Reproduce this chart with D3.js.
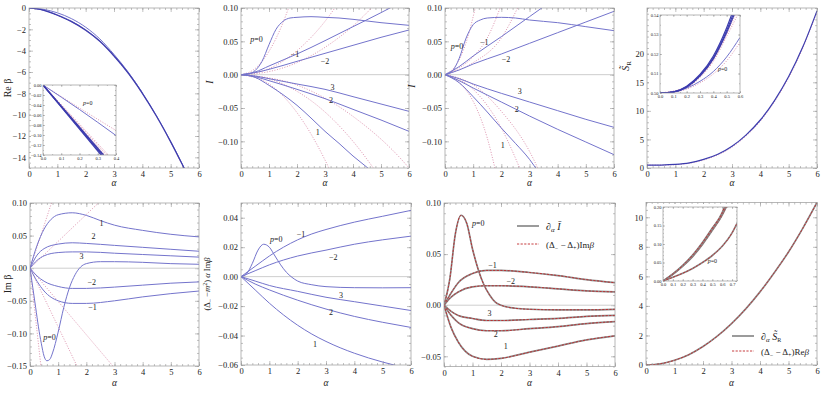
<!DOCTYPE html>
<html><head><meta charset="utf-8">
<script src="https://cdn.jsdelivr.net/npm/d3@7"></script>
<style>
body{margin:0;background:#fff}
svg{display:block;font-family:"Liberation Serif","Times New Roman","DejaVu Serif",serif}
svg text{font-family:"Liberation Serif","Times New Roman","DejaVu Serif",serif !important;fill:#222}
</style></head>
<body><svg id="c" width="830" height="393"></svg>
<script>
// ---------------- DATA ----------------
const alphaTicks = [0,1,2,3,4,5,6];
// Panel 1: Re beta
const reMain = [[0,0],[0.5,-0.2],[1,-0.68],[1.5,-1.28],[2,-2.08],[2.5,-3.12],[3,-4.5],[3.5,-6.1],[4,-8.0],[4.5,-10.15],[5,-12.55],[5.5,-15.15],[5.7,-16.2]];
const reMain2 = [[0,0],[0.5,-0.19],[1,-0.64],[1.5,-1.24],[2,-2.04],[2.5,-3.08],[3,-4.45],[3.5,-6.05],[4,-7.95],[4.5,-10.1],[5,-12.5],[5.5,-15.1],[5.7,-16.2]];
const reP0 = [[0,0],[0.5,-0.12],[1,-0.45],[1.5,-1.0],[2,-1.8],[2.5,-2.9],[3,-4.35],[3.5,-6.0],[4,-7.93]];
const reDot = [[0,0],[0.5,-0.21],[1,-0.7],[1.5,-1.3],[2,-2.1],[2.5,-3.15],[3,-4.53],[3.5,-6.13],[4,-8.03],[4.5,-10.18],[5,-12.58],[5.5,-15.2],[5.7,-16.2]];
const reYTicks = [0,-2,-4,-6,-8,-10,-12,-14];
// inset of panel 1
const in1Solid = [[[0,0],[0.318,-0.14]],[[0,0],[0.325,-0.14]],[[0,0],[0.332,-0.14]]];
const in1Dot = [[[0,0],[0.338,-0.14]],[[0,0],[0.348,-0.14]],[[0,0],[0.358,-0.14]]];
const in1P0 = [[0,0],[0.2,-0.049],[0.4,-0.101]];
const in1P0Dot = [[0,0],[0.2,-0.046],[0.4,-0.091]];
const in1YTicks = [0,-0.02,-0.04,-0.06,-0.08,-0.10,-0.12,-0.14];
const in1XTicks = [0,0.1,0.2,0.3,0.4];

// Panel 2: I
const I2 = {
  p0:[[0,0],[0.25,0.001],[0.5,0.006],[0.75,0.02],[1,0.045],[1.25,0.068],[1.5,0.08],[1.75,0.085],[2,0.086],[2.5,0.087],[3,0.086],[3.5,0.085],[4,0.083],[5,0.078],[6,0.074]],
  m1:[[0,0],[0.5,0.004],[1,0.013],[1.5,0.022],[2,0.031],[3,0.051],[4,0.072],[5,0.093],[5.5,0.104]],
  m2:[[0,0],[0.5,0.003],[1,0.008],[2,0.02],[3,0.032],[4,0.044],[5,0.056],[6,0.067]],
  p3:[[0,0],[0.5,-0.002],[1,-0.006],[2,-0.014],[3,-0.022],[4,-0.033],[5,-0.044],[6,-0.055]],
  p2:[[0,0],[0.5,-0.003],[1,-0.009],[2,-0.022],[3,-0.036],[4,-0.052],[5,-0.068],[6,-0.085]],
  p1:[[0,0],[0.5,-0.004],[1,-0.016],[1.5,-0.03],[2,-0.046],[2.5,-0.065],[3,-0.085],[3.5,-0.103],[4,-0.122],[4.5,-0.139],[4.8,-0.15]]
};
const I2dots = [
  [[0,0],[0.5,0.009],[1,0.035],[1.5,0.078],[1.75,0.106]],
  [[0,0],[1,0.009],[2,0.036],[3,0.08],[3.5,0.109]],
  [[0,0],[1,0.0046],[2,0.018],[3,0.041],[4,0.073],[4.8,0.106]],
  [[0,0],[1,-0.014],[2,-0.057],[3,-0.128],[3.25,-0.15]],
  [[0,0],[1,-0.0063],[2,-0.025],[3,-0.056],[4,-0.1],[4.9,-0.15]],
  [[0,0],[2,-0.0156],[4,-0.0626],[6,-0.14],[6.1,-0.145]]
];
const Iticks = [0.10,0.05,0,-0.05,-0.10];
const I2labels = [[0.55,0.052,"p=0"],[1.93,0.029,"−1"],[3.0,0.019,"−2"],[3.27,-0.021,"3"],[3.21,-0.040,"2"],[2.74,-0.088,"1"]];

// Panel 3: I
const I3 = {
  p0:[[0,0],[0.25,0.005],[0.5,0.024],[0.75,0.055],[1,0.075],[1.25,0.082],[1.5,0.085],[2,0.086],[2.5,0.085],[3,0.082],[4,0.078],[5,0.072],[6,0.066]],
  m1:[[0,0],[0.5,0.012],[1,0.028],[2,0.057],[3,0.087],[3.5,0.102]],
  m2:[[0,0],[0.5,0.007],[1,0.016],[2,0.031],[3,0.047],[4,0.063],[5,0.079],[6,0.095]],
  p3:[[0,0],[0.5,-0.006],[1,-0.014],[2,-0.028],[3,-0.041],[4,-0.054],[5,-0.067],[6,-0.079]],
  p2:[[0,0],[0.5,-0.009],[1,-0.02],[2,-0.041],[3,-0.062],[4,-0.082],[5,-0.101],[6,-0.12]],
  p1:[[0,0],[0.5,-0.012],[1,-0.033],[1.5,-0.056],[2,-0.08],[2.5,-0.103],[3,-0.127],[3.3,-0.145]]
};
const I3dots = [
  [[0,0],[0.5,0.022],[0.8,0.055],[1.1,0.105]],
  [[0,0],[0.5,0.01],[1,0.027],[1.5,0.055],[2,0.105]],
  [[0,0],[1,0.018],[2,0.055],[2.6,0.102]],
  [[0,0],[0.5,-0.012],[1,-0.04],[1.5,-0.095],[1.8,-0.145]],
  [[0,0],[1,-0.022],[2,-0.08],[2.7,-0.145]],
  [[0,0],[1,-0.015],[2,-0.055],[3,-0.115],[3.35,-0.145]]
];
const I3labels = [[0.43,0.042,"p=0"],[1.39,0.047,"−1"],[2.17,0.022,"−2"],[2.65,-0.027,"3"],[2.55,-0.054,"2"],[2.05,-0.108,"1"]];

// Panel 4: S_R
const sMain = [[0,0.5],[0.5,0.52],[1,0.62],[1.5,0.9],[2,1.5],[2.5,2.4],[3,3.8],[3.5,5.8],[4,8.4],[4.5,11.8],[5,16.0],[5.5,21.2],[6,27.5]];
const sDot = [[0,0.5],[0.5,0.51],[1,0.58],[1.5,0.84],[2,1.4],[2.5,2.28],[3,3.65],[3.5,5.62],[4,8.2],[4.5,11.6],[5,15.8],[5.5,21.0],[6,27.3]];
const sYTicks = [0,5,10,15,20];
const in4Solid = [
  [[0,0.5],[0.1,0.5006],[0.2,0.5035],[0.3,0.5095],[0.4,0.519],[0.5,0.5335],[0.55,0.5425]],
  [[0,0.5],[0.1,0.5005],[0.2,0.5032],[0.3,0.509],[0.4,0.518],[0.5,0.532],[0.56,0.5425]],
  [[0,0.5],[0.1,0.5005],[0.2,0.5030],[0.3,0.5087],[0.4,0.5175],[0.5,0.531],[0.57,0.5425]]
];
const in4Dot = [
  [[0,0.5],[0.2,0.503],[0.3,0.5083],[0.4,0.517],[0.5,0.5302],[0.58,0.5425]],
  [[0,0.5],[0.2,0.5028],[0.3,0.508],[0.4,0.5162],[0.5,0.529],[0.6,0.5425]]
];
const in4P0 = [[0,0.5],[0.1,0.5005],[0.2,0.5025],[0.3,0.506],[0.4,0.511],[0.5,0.5185],[0.6,0.5285]];
const in4P0Dot = [[0,0.5],[0.1,0.5004],[0.2,0.502],[0.3,0.5052],[0.4,0.5098],[0.5,0.5165],[0.6,0.526]];
const in4YTicks = [0.50,0.51,0.52,0.53,0.54];
const in4XTicks = [0,0.1,0.2,0.3,0.4,0.5,0.6];

// Panel 5: Im beta
const Im = {
  p1:[[0,0],[0.25,0.035],[0.5,0.06],[0.75,0.075],[1,0.082],[1.5,0.085],[2,0.081],[2.5,0.073],[3,0.066],[4,0.058],[5,0.052],[6,0.048]],
  p2:[[0,0],[0.25,0.02],[0.5,0.03],[1,0.037],[1.5,0.039],[2,0.038],[3,0.035],[4,0.032],[5,0.029],[6,0.026]],
  p3:[[0,0],[0.25,0.012],[0.5,0.019],[1,0.024],[1.5,0.025],[2,0.025],[3,0.023],[4,0.021],[5,0.019],[6,0.017]],
  p0:[[0,0],[0.1,-0.03],[0.2,-0.06],[0.3,-0.09],[0.4,-0.115],[0.5,-0.135],[0.6,-0.142],[0.7,-0.14],[0.8,-0.13],[1.0,-0.098],[1.2,-0.06],[1.4,-0.03],[1.6,-0.01],[1.8,0.002],[2.0,0.007],[2.5,0.01],[3,0.01],[4,0.009],[5,0.007],[6,0.006]],
  m2:[[0,0],[0.25,-0.012],[0.5,-0.02],[1,-0.028],[1.5,-0.031],[2,-0.031],[3,-0.029],[4,-0.026],[5,-0.023],[6,-0.021]],
  m1:[[0,0],[0.25,-0.02],[0.5,-0.035],[1,-0.05],[1.5,-0.054],[2,-0.054],[3,-0.05],[4,-0.044],[5,-0.039],[6,-0.035]]
};
const ImDots = [[[0,0],[0.8,0.105]],[[0,0],[2.5,0.103]],[[0,0],[0.4,-0.155]],[[0,0],[1.7,-0.153]],[[0,0],[3.0,-0.153]]];
const ImTicks = [0.10,0.05,0,-0.05,-0.10,-0.15];
const ImLabels = [[2.54,0.067,"1"],[2.25,0.047,"2"],[1.83,0.017,"3"],[2.19,-0.023,"−2"],[2.22,-0.061,"−1"],[0.69,-0.107,"p=0"]];

// Panel 6: (Δ−m²) α Im β
const D = {
  p0:[[0,0],[0.2,0.002],[0.4,0.009],[0.6,0.018],[0.8,0.022],[1.0,0.02],[1.2,0.014],[1.4,0.008],[1.6,0.003],[1.8,-0.0005],[2,-0.003],[2.5,-0.0055],[3,-0.0068],[4,-0.0075],[5,-0.0076],[6,-0.0075]],
  m1:[[0,0],[0.5,0.007],[1,0.014],[1.5,0.02],[2,0.025],[2.5,0.029],[3,0.032],[4,0.037],[5,0.041],[6,0.045]],
  m2:[[0,0],[0.5,0.004],[1,0.008],[2,0.014],[3,0.018],[4,0.022],[5,0.025],[6,0.0275]],
  p3:[[0,0],[0.5,-0.003],[1,-0.006],[2,-0.01],[3,-0.014],[4,-0.017],[5,-0.02],[6,-0.023]],
  p2:[[0,0],[0.5,-0.005],[1,-0.009],[2,-0.016],[3,-0.022],[4,-0.027],[5,-0.031],[6,-0.0345]],
  p1:[[0,0],[0.5,-0.009],[1,-0.018],[1.5,-0.026],[2,-0.033],[2.5,-0.039],[3,-0.044],[4,-0.052],[5,-0.058],[5.6,-0.061]]
};
const DTicks = [0.04,0.02,0,-0.02,-0.04,-0.06];
const DLabels = [[1.24,0.025,"p=0"],[2.12,0.028,"−1"],[3.26,0.0125,"−2"],[3.53,-0.013,"3"],[3.18,-0.025,"2"],[2.61,-0.0466,"1"]];

// Panel 7: ∂α I
const dI = {
  p0:[[0,0],[0.2,0.025],[0.4,0.07],[0.6,0.088],[0.8,0.08],[1.0,0.055],[1.2,0.035],[1.4,0.02],[1.6,0.01],[1.8,0.003],[2,0.0],[2.5,-0.003],[3,-0.004],[4,-0.0045],[5,-0.0045],[6,-0.004]],
  m1:[[0,0],[0.25,0.012],[0.5,0.022],[1,0.031],[1.5,0.034],[2,0.034],[3,0.032],[4,0.029],[5,0.025],[6,0.022]],
  m2:[[0,0],[0.25,0.008],[0.5,0.013],[1,0.018],[1.5,0.019],[2,0.019],[3,0.018],[4,0.016],[5,0.014],[6,0.013]],
  p3:[[0,0],[0.25,-0.006],[0.5,-0.01],[1,-0.013],[1.5,-0.015],[2,-0.015],[3,-0.014],[4,-0.013],[5,-0.011],[6,-0.01]],
  p2:[[0,0],[0.25,-0.01],[0.5,-0.017],[1,-0.023],[1.5,-0.025],[2,-0.025],[3,-0.023],[4,-0.021],[5,-0.018],[6,-0.016]],
  p1:[[0,0],[0.25,-0.022],[0.5,-0.036],[1,-0.05],[1.5,-0.053],[2,-0.052],[3,-0.046],[4,-0.04],[5,-0.034],[6,-0.03]]
};
const dITicks = [0.10,0.05,0,-0.05];
const dILabels = [[1.2,0.0796,"p=0"],[1.7,0.0378,"−1"],[2.34,0.0227,"−2"],[1.6,-0.0092,"3"],[1.82,-0.029,"2"],[2.17,-0.0414,"1"]];

// Panel 8: ∂α S_R
const dS = [[0,0],[0.5,0.08],[1,0.32],[1.5,0.7],[2,1.25],[2.5,1.95],[3,2.8],[3.5,3.8],[4,4.95],[4.5,6.25],[5,7.65],[5.5,9.25],[6,11]];
const dSTicks = [0,2,4,6,8,10];
const in8Bundle = [
  [[0,0],[0.1,0.018],[0.2,0.04],[0.3,0.066],[0.4,0.099],[0.5,0.137],[0.6,0.178],[0.65,0.205]],
  [[0,0],[0.1,0.0185],[0.2,0.041],[0.3,0.068],[0.4,0.101],[0.5,0.14],[0.6,0.181],[0.64,0.205]],
  [[0,0],[0.1,0.019],[0.2,0.042],[0.3,0.07],[0.4,0.104],[0.5,0.143],[0.6,0.185],[0.63,0.205]]
];
const in8P0 = [[0,0],[0.1,0.01],[0.2,0.021],[0.3,0.034],[0.4,0.05],[0.5,0.069],[0.6,0.094],[0.7,0.13],[0.75,0.156]];
const in8YTicks = [0,0.05,0.10,0.15,0.20];
const in8XTicks = [0,0.1,0.2,0.3,0.4,0.5,0.6,0.7];

// ---------------- DRAWING ----------------
const FONT = '"Liberation Serif","Times New Roman","DejaVu Serif",serif';
const svg = d3.select('#c');
let cid = 0;
const BLUE = '#7474cc', DBLUE = '#3c3cae', PINK = '#d4789a', GRAY = '#8a8a8a', RED = '#c0282a';

function styl(p, s){
  if(s==='b') p.attr('stroke',BLUE).attr('stroke-width',1);
  else if(s==='bd') p.attr('stroke',DBLUE).attr('stroke-width',1.2);
  else if(s==='r') p.attr('stroke',PINK).attr('stroke-width',0.8).attr('stroke-dasharray','1,1.6');
  else if(s==='g') p.attr('stroke',GRAY).attr('stroke-width',1.7);
  else if(s==='rd') p.attr('stroke',RED).attr('stroke-width',0.9).attr('stroke-dasharray','2.2,1.4');
  p.attr('fill','none');
}

function minorVals(dom, step){
  const lo = Math.min(dom[0],dom[1]), hi = Math.max(dom[0],dom[1]);
  const out=[]; const n0=Math.ceil(lo/step-1e-9), n1=Math.floor(hi/step+1e-9);
  for(let i=n0;i<=n1;i++) out.push(+(i*step).toFixed(6));
  return out;
}

function txt(sel){ return sel.style('font-family',FONT); }

function panel(o){
  const x = d3.scaleLinear().domain(o.xd).range([o.l,o.r]);
  const y = d3.scaleLinear().domain(o.yd).range([o.b,o.t]);
  const g = svg.append('g').attr('font-family',FONT);
  const id = 'clip'+(cid++);
  svg.append('clipPath').attr('id',id).append('rect')
    .attr('x',o.l).attr('y',o.t).attr('width',o.r-o.l).attr('height',o.b-o.t);
  if(o.bg) g.append('rect').attr('x',o.bg[0]).attr('y',o.bg[1]).attr('width',o.bg[2]).attr('height',o.bg[3]).attr('fill','#fff');
  const fs = o.fs||8.5, tl = o.tl||4, ml = o.ml||2;
  const fmtX = o.xf||(d=>d3.format('d')(d));
  const fmtY = o.yf||(d=>d3.format('d')(d));
  const mk = (axis, tr, vals, sz) => {
    const a = g.append('g').attr('transform',tr).call(axis.tickValues(vals).tickSize(-sz).tickFormat(''));
    a.select('.domain').remove(); a.selectAll('line').attr('stroke','#999').attr('stroke-width',0.6);
    a.selectAll('text').remove();
  };
  const xm = minorVals(o.xd,o.xms), ym = minorVals(o.yd,o.yms);
  mk(d3.axisBottom(x),`translate(0,${o.b})`,xm,ml);
  mk(d3.axisTop(x),`translate(0,${o.t})`,xm,ml);
  mk(d3.axisLeft(y),`translate(${o.l},0)`,ym,ml);
  mk(d3.axisRight(y),`translate(${o.r},0)`,ym,ml);
  mk(d3.axisTop(x),`translate(0,${o.t})`,o.xt,tl);
  mk(d3.axisRight(y),`translate(${o.r},0)`,o.yt,tl);
  const bx = g.append('g').attr('transform',`translate(0,${o.b})`)
    .call(d3.axisBottom(x).tickValues(o.xt).tickSize(-tl).tickPadding(o.xpad||3).tickFormat(fmtX));
  const ly = g.append('g').attr('transform',`translate(${o.l},0)`)
    .call(d3.axisLeft(y).tickValues(o.yt).tickSize(-tl).tickPadding(o.ypad||3).tickFormat(fmtY));
  [bx,ly].forEach(a=>{a.select('.domain').remove(); a.attr('font-family',FONT);
    a.selectAll('line').attr('stroke','#999').attr('stroke-width',0.6);
    txt(a.selectAll('text')).attr('font-size',fs).attr('fill','#222');});
  if(o.zero){
    g.append('line').attr('x1',o.l).attr('x2',o.r).attr('y1',y(0)).attr('y2',y(0))
     .attr('stroke','#c8c8c8').attr('stroke-width',0.9);
  }
  const line = d3.line().x(d=>x(d[0])).y(d=>y(d[1])).curve(d3.curveMonotoneX);
  const sg = g.append('g').attr('clip-path',`url(#${id})`);
  (o.series||[]).forEach(s=>{ styl(sg.append('path').attr('d',line(s.d)), s.s); });
  g.append('rect').attr('x',o.l).attr('y',o.t).attr('width',o.r-o.l).attr('height',o.b-o.t)
    .attr('fill','none').attr('stroke','#999').attr('stroke-width',0.7);
  (o.labels||[]).forEach(L=>{
    const t = txt(g.append('text')).attr('x',x(L[0])).attr('y',y(L[1])).attr('font-size',o.lfs||8)
      .attr('text-anchor','middle').attr('dominant-baseline','middle');
    if(L[2]==='p=0'){ t.append('tspan').attr('font-style','italic').text('p'); t.append('tspan').text('=0'); }
    else t.text(L[2]);
  });
  if(o.xlabel){
    txt(g.append('text')).attr('x',(o.l+o.r)/2).attr('y',o.xly).attr('text-anchor','middle')
      .attr('font-size',9.5).attr('font-style','italic').text('α');
  }
  return {x,y,g};
}

const sixSeries = (obj, st) => ['p0','m1','m2','p3','p2','p1'].map(k=>({d:obj[k],s:st}));
const f2 = d=> d3.format('.2f')(d);

// Panel 1
const P1 = panel({l:29,r:199,t:8,b:168,xd:[0,6],yd:[-15,0],xt:alphaTicks,yt:reYTicks,xms:0.2,yms:0.5,
  series:[{d:reDot,s:'r'},{d:reP0,s:'b'},{d:reMain2,s:'b'},{d:reMain,s:'bd'}],xlabel:true,xly:186});
txt(P1.g.append('text')).attr('transform','translate(11,88) rotate(-90)').attr('text-anchor','middle')
  .attr('font-size',10).text('Re β');
// Inset 1
panel({l:43,r:116,t:85,b:155,xd:[0,0.4],yd:[-0.14,0],xt:in1XTicks,yt:in1YTicks,xms:0.05,yms:0.01,fs:4.5,tl:2,ml:1,
  bg:[31,82,89,80],
  xf:d=>d3.format('.1f')(d), yf:f2, xpad:1.5, ypad:1.5,
  series:[...in1Dot.map(d=>({d,s:'r'})),{d:in1P0Dot,s:'r'},{d:in1P0,s:'b'},...in1Solid.map(d=>({d,s:'bd'}))],
  labels:[[0.245,-0.038,'p=0']],lfs:6});

// Panel 2
const P2 = panel({l:241,r:409,t:8,b:168,xd:[0,6],yd:[-0.14,0.10],xt:alphaTicks,yt:Iticks,xms:0.2,yms:0.01,yf:f2,zero:true,
  series:[...I2dots.map(d=>({d,s:'r'})),...sixSeries(I2,'b')],labels:I2labels,xlabel:true,xly:186});
txt(P2.g.append('text')).attr('transform','translate(213,82) rotate(-90)').attr('text-anchor','middle')
  .attr('font-size',10).attr('font-style','italic').text('I');

// Panel 3
const P3 = panel({l:445,r:614,t:8,b:168,xd:[0,6],yd:[-0.14,0.10],xt:alphaTicks,yt:Iticks,xms:0.2,yms:0.01,yf:f2,zero:true,
  series:[...I3dots.map(d=>({d,s:'r'})),...sixSeries(I3,'b')],labels:I3labels,xlabel:true,xly:186});
txt(P3.g.append('text')).attr('transform','translate(415,86) rotate(-90)').attr('text-anchor','middle')
  .attr('font-size',10).attr('font-style','italic').text('I');

// Panel 4
const P4 = panel({l:647,r:817,t:8,b:168,xd:[0,6],yd:[0,28],xt:alphaTicks,yt:sYTicks,xms:0.2,yms:1,
  series:[{d:sDot,s:'r'},{d:sMain,s:'bd'}],xlabel:true,xly:186});
{
  const t = txt(P4.g.append('text')).attr('transform','translate(629,66) rotate(-90)').attr('text-anchor','middle').attr('font-size',10);
  t.append('tspan').attr('font-style','italic').text('S̃');
  t.append('tspan').attr('font-size',7).attr('dy',2).text('R');
}
panel({l:660,r:740,t:15,b:93,xd:[0,0.6],yd:[0.50,0.54],xt:in4XTicks,yt:in4YTicks,xms:0.05,yms:0.005,fs:4.5,tl:2,ml:1,
  bg:[649,12,95,88],
  xf:d=>d3.format('.1f')(d), yf:f2, xpad:1.5, ypad:1.5,
  series:[...in4Dot.map(d=>({d,s:'r'})),{d:in4P0Dot,s:'r'},{d:in4P0,s:'b'},...in4Solid.map(d=>({d,s:'bd'}))],
  labels:[[0.47,0.5118,'p=0']],lfs:6});

// Panel 5
const P5 = panel({l:30,r:199,t:203,b:366,xd:[0,6],yd:[-0.15,0.10],xt:alphaTicks,yt:ImTicks,xms:0.2,yms:0.01,yf:f2,zero:true,
  series:[...ImDots.map(d=>({d,s:'r'})),...['p1','p2','p3','p0','m2','m1'].map(k=>({d:Im[k],s:'b'}))],labels:ImLabels,xlabel:true,xly:386});
txt(P5.g.append('text')).attr('transform','translate(11,284) rotate(-90)').attr('text-anchor','middle')
  .attr('font-size',10).text('Im β');

// Panel 6
const P6 = panel({l:241,r:411,t:203,b:365,xd:[0,6],yd:[-0.06,0.05],xt:alphaTicks,yt:DTicks,xms:0.2,yms:0.005,yf:f2,zero:true,
  series:sixSeries(D,'b'),labels:DLabels,xlabel:true,xly:386});
{
  const t = txt(P6.g.append('text')).attr('transform','translate(210,284) rotate(-90)').attr('text-anchor','middle').attr('font-size',8.5);
  t.append('tspan').text('(Δ');
  t.append('tspan').attr('font-size',6).attr('dy',2).text('−');
  t.append('tspan').attr('dy',-2).text(' −');
  t.append('tspan').attr('font-style','italic').text('m');
  t.append('tspan').attr('font-size',6).attr('dy',-3).text('2');
  t.append('tspan').attr('dy',3).text(') ');
  t.append('tspan').attr('font-style','italic').text('α');
  t.append('tspan').text(' Im');
  t.append('tspan').attr('font-style','italic').text('β');
}

// Panel 7
const dISeries = [];
['p0','m1','m2','p3','p2','p1'].forEach(k=>{dISeries.push({d:dI[k],s:'g'}); dISeries.push({d:dI[k],s:'rd'});});
const P7 = panel({l:444,r:615,t:203,b:366.5,xd:[0,6],yd:[-0.06,0.10],xt:alphaTicks,yt:dITicks,xms:0.2,yms:0.01,yf:f2,zero:true,
  series:dISeries,labels:dILabels,xlabel:true,xly:386});
function legend(g, x0, y1, y2, t1, t2){
  styl(g.append('path').attr('d',`M${x0},${y1}H${x0+22}`),'g');
  styl(g.append('path').attr('d',`M${x0},${y2}H${x0+22}`),'rd');
  t1(txt(g.append('text')).attr('x',x0+29).attr('y',y1+3.5).attr('font-size',10));
  t2(txt(g.append('text')).attr('x',x0+29).attr('y',y2+3.5).attr('font-size',9));
}
legend(P7.g, 517, 226, 244,
  t=>{t.append('tspan').text('∂'); t.append('tspan').attr('font-style','italic').attr('font-size',7).attr('dy',2).text('α');
      t.append('tspan').attr('dy',-2).text(' '); t.append('tspan').attr('font-style','italic').text('Ī');},
  t=>{t.append('tspan').text('(Δ'); t.append('tspan').attr('font-size',6).attr('dy',2).text('−');
      t.append('tspan').attr('dy',-2).text(' − Δ'); t.append('tspan').attr('font-size',6).attr('dy',2).text('+');
      t.append('tspan').attr('dy',-2).text(')Im'); t.append('tspan').attr('font-style','italic').text('β');});

// Panel 8
const P8 = panel({l:646,r:817,t:202.5,b:365,xd:[0,6],yd:[0,11],xt:alphaTicks,yt:dSTicks,xms:0.2,yms:0.5,
  series:[{d:dS,s:'g'},{d:dS,s:'rd'}],xlabel:true,xly:386});
legend(P8.g, 732, 336, 351,
  t=>{t.append('tspan').text('∂'); t.append('tspan').attr('font-style','italic').attr('font-size',7).attr('dy',2).text('α');
      t.append('tspan').attr('dy',-2).text(' '); t.append('tspan').attr('font-style','italic').text('S̃');
      t.append('tspan').attr('font-size',6).attr('dy',2).text('R');},
  t=>{t.append('tspan').text('(Δ'); t.append('tspan').attr('font-size',6).attr('dy',2).text('−');
      t.append('tspan').attr('dy',-2).text(' − Δ'); t.append('tspan').attr('font-size',6).attr('dy',2).text('+');
      t.append('tspan').attr('dy',-2).text(')Re'); t.append('tspan').attr('font-style','italic').text('β');});
const in8Series = [];
[...in8Bundle, in8P0].forEach(d=>{in8Series.push({d,s:'g'}); in8Series.push({d,s:'rd'});});
panel({l:663,r:737,t:207,b:281,xd:[0,0.75],yd:[0,0.20],xt:in8XTicks,yt:in8YTicks,xms:0.05,yms:0.01,fs:4.5,tl:2,ml:1,
  bg:[651,204,90,86],
  xf:d=>d3.format('.1f')(d), yf:f2, xpad:1.5, ypad:1.5,
  series:in8Series, labels:[[0.5,0.051,'p=0']],lfs:6});
</script>
</body></html>
